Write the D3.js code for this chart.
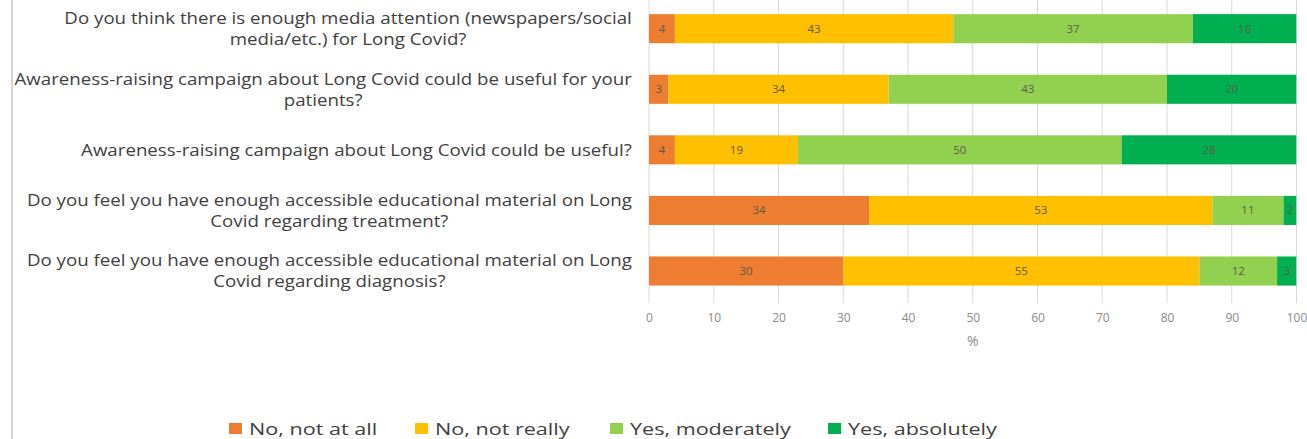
<!DOCTYPE html>
<html>
<head>
<meta charset="utf-8">
<script src="https://cdn.jsdelivr.net/npm/d3@7"></script>
<style>
  body { margin: 0; background: #fff; }
  svg { display: block; }
</style>
</head>
<body>
<svg id="chart" width="1307" height="439"></svg>
<script>
// questions, top to bottom
var questions = [
  "Do you think there is enough media attention (newspapers/social media/etc.) for Long Covid?",
  "Awareness-raising campaign about Long Covid could be useful for your patients?",
  "Awareness-raising campaign about Long Covid could be useful?",
  "Do you feel you have enough accessible educational material on Long Covid regarding treatment?",
  "Do you feel you have enough accessible educational material on Long Covid regarding diagnosis?"
];
var answers = ["No, not at all", "No, not really", "Yes, moderately", "Yes, absolutely"];
var notAtAll   = [4, 3, 4, 34, 30];
var notReally  = [43, 34, 19, 53, 55];
var moderately = [37, 43, 50, 11, 12];
var absolutely = [16, 20, 28, 2, 3];
var xTicks = [0, 10, 20, 30, 40, 50, 60, 70, 80, 90, 100];
var colors = ["#ED7D31", "#FFC000", "#92D050", "#00B050"];

var w = 1307, h = 439;
var svg = d3.select("#chart");
var font = "'Open Sans', sans-serif";

// chart frame (only left edge visible in the crop)
svg.append("rect")
  .attr("x", 12).attr("y", -5)
  .attr("width", w + 20).attr("height", h + 20)
  .attr("fill", "none")
  .attr("stroke", "#d4d4d4")
  .attr("stroke-width", 2);

var x = d3.scaleLinear().domain([0, 100]).range([649, 1296.5]);
var y = d3.scaleBand().domain(questions).range([-1.6, 301.3]).paddingInner(0.52).paddingOuter(0.26);

var rows = questions.map(function(q, i){
  return { q: q, notAtAll: notAtAll[i], notReally: notReally[i], moderately: moderately[i], absolutely: absolutely[i] };
});
var keys = ["notAtAll", "notReally", "moderately", "absolutely"];
var stacked = d3.stack().keys(keys)(rows);

// gridlines
svg.append("g")
  .selectAll("line")
  .data(xTicks)
  .join("line")
  .attr("x1", function(d){ return x(d); })
  .attr("x2", function(d){ return x(d); })
  .attr("y1", 0).attr("y2", 303)
  .attr("stroke", "#d9d9d9")
  .attr("stroke-width", 1);

svg.append("defs").append("clipPath").attr("id", "plotclip")
  .append("rect").attr("x", x(0)).attr("y", -5).attr("width", x(100) - x(0)).attr("height", 320);

var layers = svg.append("g").attr("clip-path", "url(#plotclip)")
  .selectAll("g")
  .data(stacked)
  .join("g")
  .attr("fill", function(d, i){ return colors[i]; });

layers.selectAll("rect")
  .data(function(d){ return d; })
  .join("rect")
  .attr("x", function(d){ return x(d[0]); })
  .attr("y", function(d){ return y(d.data.q); })
  .attr("width", function(d){ return x(Math.min(d[1], 100)) - x(d[0]); })
  .attr("height", y.bandwidth());

// data labels
svg.append("g")
  .selectAll("g")
  .data(stacked)
  .join("g")
  .selectAll("text")
  .data(function(d){ return d; })
  .join("text")
  .attr("x", function(d){ return (x(d[0]) + x(Math.min(d[1], 100))) / 2; })
  .attr("y", function(d){ return y(d.data.q) + y.bandwidth() / 2; })
  .attr("dy", "0.35em")
  .attr("text-anchor", "middle")
  .attr("font-family", font)
  .attr("font-size", "11.5px")
  .attr("fill", "#5f5a4a")
  .text(function(d){ return d[1] - d[0]; });

// x axis tick labels
var xAxis = d3.axisBottom(x).tickValues(xTicks).tickSize(0).tickPadding(0);
var gx = svg.append("g").attr("transform", "translate(0,311)").call(xAxis);
gx.select(".domain").remove();
gx.selectAll("text")
  .attr("font-family", font)
  .attr("font-size", "12px")
  .attr("fill", "#8a8a8a")
  .attr("dy", "0.9em");

svg.append("text")
  .attr("x", x(50)).attr("y", 346)
  .attr("text-anchor", "middle")
  .attr("font-family", font)
  .attr("font-size", "14px")
  .attr("fill", "#8a8a8a")
  .text("%");

// category labels: wrapped, block right-aligned, lines centered
// (the source picture is stretched sideways, so text gets a horizontal scale)
var labelSize = 17;
var sx = 1.1;
var wrapWidth = 624;
var rightEdge = 632;
var measure = svg.append("text").attr("font-family", font).attr("font-size", labelSize + "px");
function textWidth(s){ measure.text(s); return measure.node().getComputedTextLength() * sx; }

questions.forEach(function(q){
  var words = q.split(" ");
  var lines = [], cur = "";
  words.forEach(function(wd){
    var test = cur ? cur + " " + wd : wd;
    if (cur && textWidth(test) > wrapWidth) { lines.push(cur); cur = wd; }
    else cur = test;
  });
  lines.push(cur);
  var maxW = d3.max(lines, textWidth);
  var cx = rightEdge - maxW / 2;
  var lh = 21;
  var cy = y(q) + y.bandwidth() / 2;
  var t = svg.append("text")
    .attr("transform", "translate(" + cx + ",0) scale(" + sx + ",1)")
    .attr("font-family", font)
    .attr("font-size", labelSize + "px")
    .attr("fill", "#404040")
    .attr("text-anchor", "middle");
  lines.forEach(function(l, i){
    t.append("tspan")
      .attr("x", 0)
      .attr("y", cy + (i - (lines.length - 1) / 2) * lh)
      .attr("dy", "0.35em")
      .text(l);
  });
});
measure.remove();

// legend
var legendX = [229, 415, 610, 828];
var lg = svg.append("g").selectAll("g")
  .data(answers)
  .join("g")
  .attr("transform", function(d, i){ return "translate(" + legendX[i] + ",429)"; });
lg.append("rect")
  .attr("x", 0).attr("y", -6)
  .attr("width", 13).attr("height", 11)
  .attr("fill", function(d, i){ return colors[i]; });
lg.append("text")
  .attr("transform", "translate(20,0) scale(1.27,1)")
  .attr("dy", "0.35em")
  .attr("font-family", font)
  .attr("font-size", "17px")
  .attr("fill", "#404040")
  .text(function(d){ return d; });
</script>
</body>
</html>
